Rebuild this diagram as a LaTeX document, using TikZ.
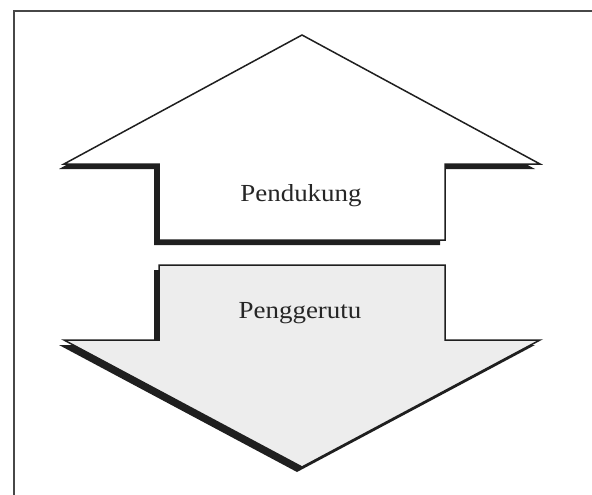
\documentclass[tikz,border=0pt]{standalone}
\usepackage{fontspec}
\setmainfont{Liberation Serif}[FakeStretch=1.1]
\begin{document}
\begin{tikzpicture}[x=1pt,y=-1pt,
  shadowfill/.style={fill=black!88, draw=none},
  arrowbody/.style={draw=black!88, line width=1.5pt, line join=miter},
  labeltext/.style={font=\fontsize{24.5}{28}\selectfont, text=black!85, inner sep=0pt, anchor=base},
  frameline/.style={draw=black!72, line width=2pt}]
\useasboundingbox (0,0) rectangle (592,495);
% frame (top and left only)
\draw[frameline] (592,11.5) -- (13.5,11.5) -- (13.5,495);
% up arrow
\fill[shadowfill, shift={(-5,5)}] (302,35) -- (64,164) -- (159,164) -- (159,240) -- (445,240) -- (445,164) -- (540,164) -- cycle;
\filldraw[arrowbody, fill=white] (302,35) -- (64,164) -- (159,164) -- (159,240) -- (445,240) -- (445,164) -- (540,164) -- cycle;
% down arrow
\fill[shadowfill, shift={(-5,5)}] (159,265) -- (445,265) -- (445,340) -- (540,340) -- (302,467) -- (64,340) -- (159,340) -- cycle;
\filldraw[arrowbody, fill=black!7] (159,265) -- (445,265) -- (445,340) -- (540,340) -- (302,467) -- (64,340) -- (159,340) -- cycle;
% labels
\node[labeltext] (pend) at (301,201) {Pendukung};
\node[labeltext] (peng) at (300,318) {Penggerutu};
\end{tikzpicture}
\end{document}
